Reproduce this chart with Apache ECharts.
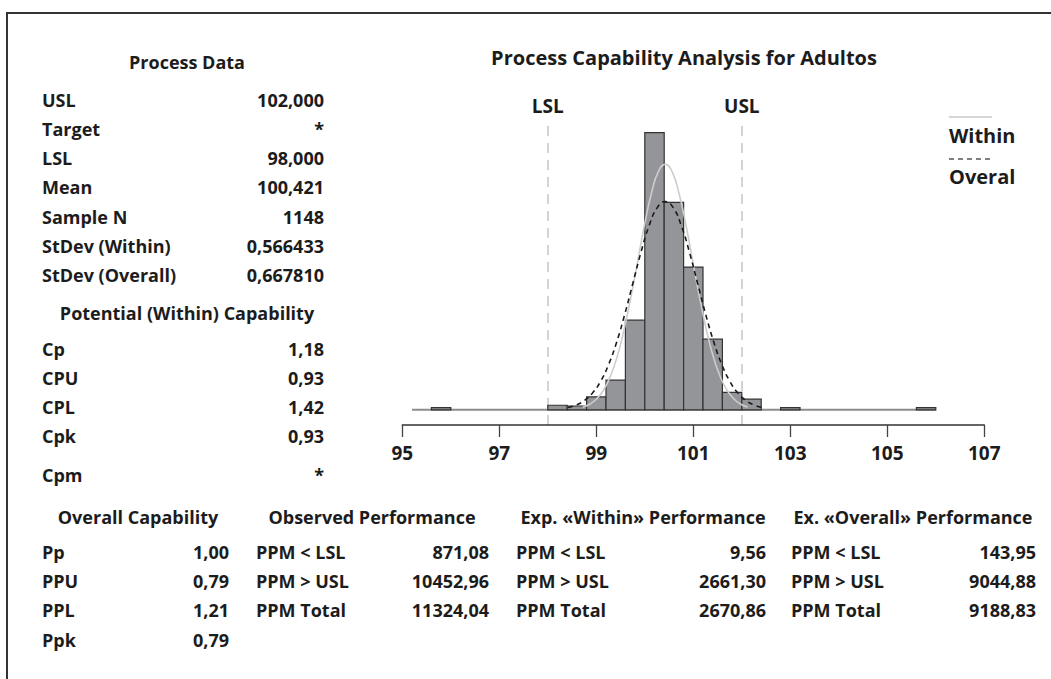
<!DOCTYPE html>
<html>
<head>
<meta charset="utf-8">
<script src="https://cdn.jsdelivr.net/npm/echarts@6/dist/echarts.min.js"></script>
<style>
  html, body { margin: 0; padding: 0; background: #fff; }
  #chart { width: 1051px; height: 679px; }
</style>
</head>
<body>
<div id="chart"></div>
<script>
// ---------- Data ----------
const chartTitle = 'Process Capability Analysis for Adultos';
const LSL = 98;
const USL = 102;
const xTicks = [95, 97, 99, 101, 103, 105, 107];
const binWidth = 0.4;
const binCenters = [95.8, 98.2, 98.6, 99.0, 99.4, 99.8, 100.2, 100.6, 101.0, 101.4, 101.8, 102.2, 103.0, 105.8];
const binCounts  = [3, 6, 5, 17, 39, 118, 365, 273, 188, 93, 23, 14, 3, 3];
const dataRange = [95.2, 106.0];

// Fitted normal curves (counts per bin)
const withinX = [98.722, 98.863, 99.005, 99.147, 99.288, 99.430, 99.571, 99.713, 99.855, 99.996, 100.138, 100.279, 100.421,
                 100.563, 100.704, 100.846, 100.987, 101.129, 101.271, 101.412, 101.554, 101.696, 101.837, 101.979, 102.120];
const withinY = [3.6, 7.4, 14.2, 25.7, 43.8, 69.9, 105.0, 148.1, 196.2, 244.1, 285.4, 313.5, 323.4,
                 313.5, 285.4, 244.1, 196.2, 148.1, 105.0, 69.9, 43.8, 25.7, 14.2, 7.4, 3.6];
const overallX = [98.418, 98.585, 98.752, 98.918, 99.085, 99.252, 99.419, 99.586, 99.753, 99.920, 100.087, 100.254, 100.421,
                  100.588, 100.755, 100.922, 101.089, 101.256, 101.423, 101.590, 101.757, 101.924, 102.091, 102.258, 102.424];
const overallY = [3.0, 6.3, 12.1, 21.8, 37.1, 59.3, 89.1, 125.6, 166.4, 207.1, 242.1, 265.9, 274.3,
                  265.9, 242.1, 207.1, 166.4, 125.6, 89.1, 59.3, 37.1, 21.8, 12.1, 6.3, 3.0];

const legendNames = ['Within', 'Overal'];

const processHeader = 'Process Data';
const processLabels = ['USL', 'Target', 'LSL', 'Mean', 'Sample N', 'StDev (Within)', 'StDev (Overall)'];
const processValues = ['102,000', '*', '98,000', '100,421', '1148', '0,566433', '0,667810'];

const potentialHeader = 'Potential (Within) Capability';
const potentialLabels = ['Cp', 'CPU', 'CPL', 'Cpk', 'Cpm'];
const potentialValues = ['1,18', '0,93', '1,42', '0,93', '*'];

const overallHeader = 'Overall Capability';
const overallLabels = ['Pp', 'PPU', 'PPL', 'Ppk'];
const overallValues = ['1,00', '0,79', '1,21', '0,79'];

const ppmLabels = ['PPM < LSL', 'PPM > USL', 'PPM Total'];
const observedHeader = 'Observed Performance';
const observedValues = ['871,08', '10452,96', '11324,04'];
const expWithinHeader = 'Exp. «Within» Performance';
const expWithinValues = ['9,56', '2661,30', '2670,86'];
const expOverallHeader = 'Ex. «Overall» Performance';
const expOverallValues = ['143,95', '9044,88', '9188,83'];

// ---------- Styling ----------
const FONT = "'Open Sans', 'Noto Sans', sans-serif";
const TXT = '#1c1c1c';
const FS = 18;

function txt(text, x, y, align, size) {
  return {
    type: 'text', x: x, y: y, silent: true,
    style: { text: text, fill: TXT, font: 'bold ' + (size || FS) + 'px ' + FONT,
             textAlign: align || 'left', textVerticalAlign: 'middle' }
  };
}

const graphics = [];
// frame
graphics.push({ type: 'rect', shape: { x: 7, y: 13, width: 1070, height: 700 },
  style: { fill: 'none', stroke: '#333', lineWidth: 2 }, silent: true });

// title
graphics.push(txt(chartTitle, 684, 57, 'center', 20));

// Process data block
graphics.push(txt(processHeader, 187, 62, 'center'));
processLabels.forEach((l, i) => {
  const y = 99.5 + i * 29.3;
  graphics.push(txt(l, 42, y, 'left'));
  graphics.push(txt(processValues[i], 324, y, 'right'));
});
graphics.push(txt(potentialHeader, 187, 312.5, 'center'));
const potY = [349, 378, 407, 436, 475];
potentialLabels.forEach((l, i) => {
  graphics.push(txt(l, 42, potY[i], 'left'));
  graphics.push(txt(potentialValues[i], 324, potY[i], 'right'));
});

// bottom tables
const hdrY = 516.5;
graphics.push(txt(overallHeader, 138, hdrY, 'center'));
graphics.push(txt(observedHeader, 372, hdrY, 'center'));
graphics.push(txt(expWithinHeader, 643, hdrY, 'center'));
graphics.push(txt(expOverallHeader, 913, hdrY, 'center'));
overallLabels.forEach((l, i) => {
  const y = 551.5 + i * 29.4;
  graphics.push(txt(l, 42, y, 'left'));
  graphics.push(txt(overallValues[i], 229, y, 'right'));
});
ppmLabels.forEach((l, i) => {
  const y = 551.5 + i * 29.4;
  graphics.push(txt(l, 256, y, 'left'));
  graphics.push(txt(observedValues[i], 489, y, 'right'));
  graphics.push(txt(l, 516, y, 'left'));
  graphics.push(txt(expWithinValues[i], 766, y, 'right'));
  graphics.push(txt(l, 791, y, 'left'));
  graphics.push(txt(expOverallValues[i], 1036, y, 'right'));
});

// legend
graphics.push({ type: 'line', shape: { x1: 949, y1: 117, x2: 992, y2: 117 },
  style: { stroke: '#d6d6d6', lineWidth: 2 }, silent: true });
graphics.push(txt(legendNames[0], 949, 135, 'left', 20));
graphics.push({ type: 'line', shape: { x1: 949, y1: 159, x2: 992, y2: 159 },
  style: { stroke: '#555', lineWidth: 1.5, lineDash: [5, 4] }, silent: true });
graphics.push(txt(legendNames[1], 949, 176, 'left', 20));

// ---------- Chart ----------
const chart = echarts.init(document.getElementById('chart'), null, { renderer: 'svg' });

const option = {
  animation: false,
  backgroundColor: '#fff',
  grid: { left: 402.3, right: 1051 - 984.3, top: 125, bottom: 679 - 425 },
  xAxis: {
    type: 'value', min: xTicks[0], max: xTicks[xTicks.length - 1], interval: 2,
    splitLine: { show: false },
    axisLine: { onZero: false, lineStyle: { color: '#333', width: 1.5 } },
    axisTick: { show: true, length: 12, lineStyle: { color: '#444', width: 1.3 } },
    axisLabel: { fontFamily: FONT, fontWeight: 'bold', fontSize: 19, color: TXT, margin: 18 }
  },
  yAxis: { type: 'value', min: -20, max: 375, show: false, splitLine: { show: false } },
  series: [
    {
      name: 'range', type: 'line', silent: true, symbol: 'none', z: 1,
      data: [[dataRange[0], 0], [dataRange[1], 0]],
      lineStyle: { color: '#8c8c8c', width: 2 },
      markLine: {
        silent: true, symbol: 'none', z: 0,
        lineStyle: { color: '#d4d4d4', type: [10, 7], width: 2 },
        label: { show: true, position: 'end', formatter: '{b}', distance: 10,
                 fontFamily: FONT, fontWeight: 'bold', fontSize: 19, color: TXT },
        data: [{ name: 'LSL', xAxis: LSL }, { name: 'USL', xAxis: USL }]
      }
    },
    {
      name: 'Histogram', type: 'custom', z: 2,
      data: binCenters.map((c, i) => [c, binCounts[i]]),
      encode: { x: 0, y: 1 },
      renderItem: function (params, api) {
        const c = api.value(0), v = api.value(1);
        const p0 = api.coord([c - binWidth / 2, v]);
        const p1 = api.coord([c + binWidth / 2, 0]);
        return {
          type: 'rect',
          shape: { x: p0[0], y: p0[1], width: p1[0] - p0[0], height: p1[1] - p0[1] },
          style: { fill: '#939598', stroke: '#333', lineWidth: 1.2 }
        };
      }
    },
    {
      name: 'Within', type: 'line', smooth: true, symbol: 'none', z: 3,
      data: withinX.map((x, i) => [x, withinY[i]]),
      lineStyle: { color: '#cdcdcd', width: 1.6 }
    },
    {
      name: 'Overall', type: 'line', smooth: true, symbol: 'none', z: 4,
      data: overallX.map((x, i) => [x, overallY[i]]),
      lineStyle: { color: '#1a1a1a', width: 1.6, type: [5, 4] }
    }
  ],
  graphic: graphics
};
chart.setOption(option);
</script>
</body>
</html>
